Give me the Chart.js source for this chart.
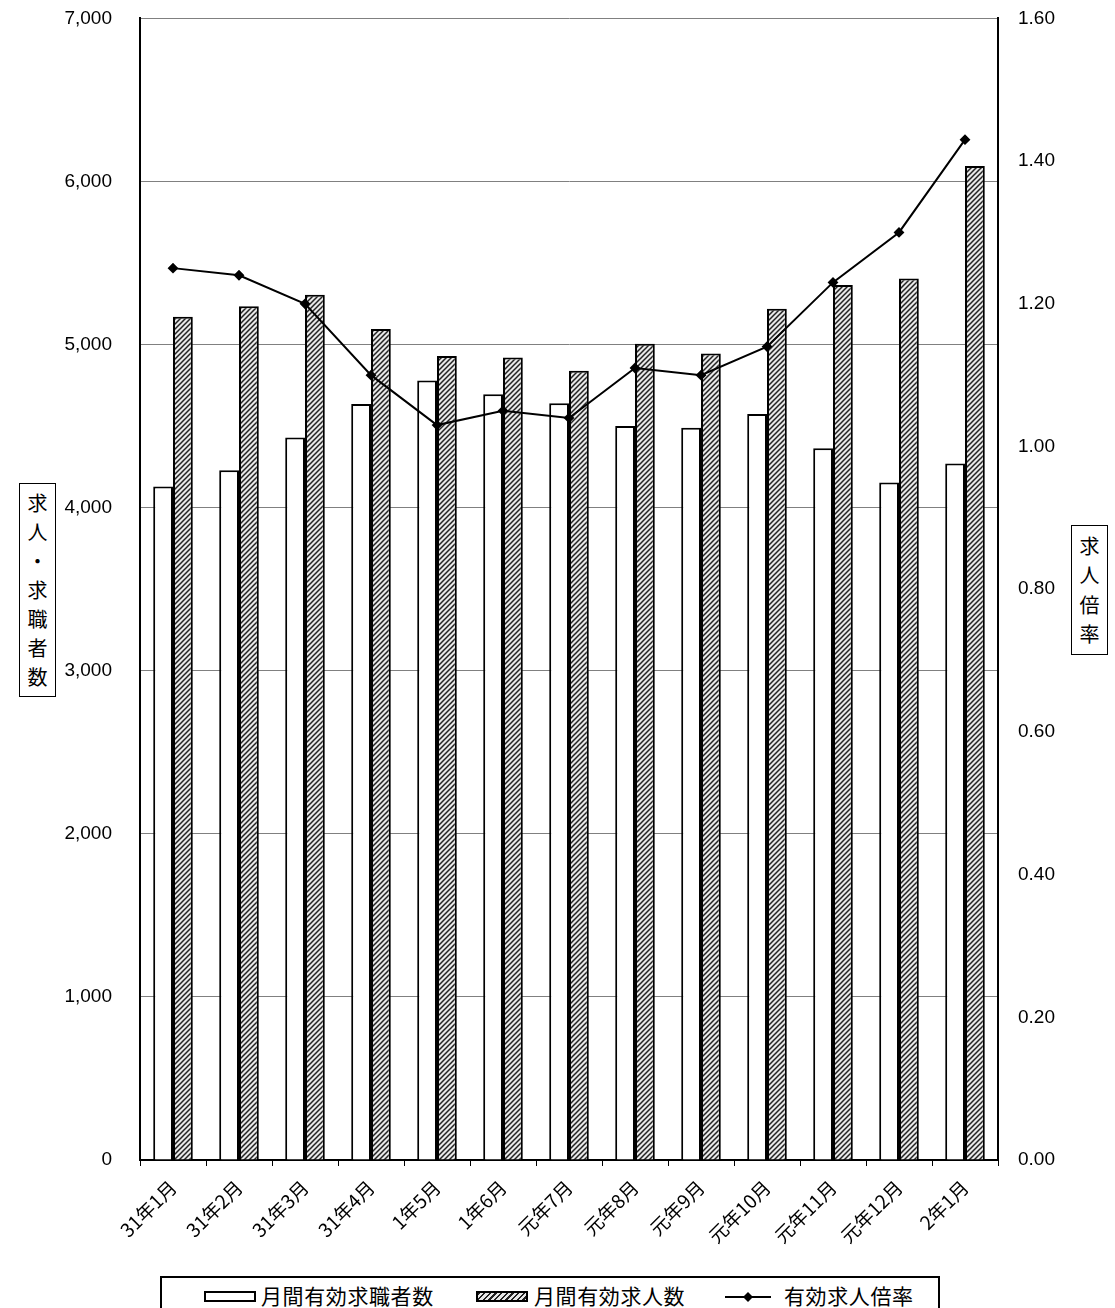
<!DOCTYPE html>
<html>
<head>
<meta charset="utf-8">
<script src="https://cdn.jsdelivr.net/npm/chart.js@4.4.0/dist/chart.umd.min.js"></script>
<style>
body { margin: 0; background: #fff; }
#wrap { position: relative; width: 1115px; height: 1308px; overflow: hidden; font-family: "Noto Sans CJK JP", sans-serif; }
#chart { position: absolute; left: 0; top: -21px; }
.yt { position: absolute; border: 1.5px solid #000; background: #fff; display: flex; flex-direction: column; justify-content: space-evenly; align-items: center; font-size: 20px; line-height: 1; color: #000; }
#legend { position: absolute; left: 160px; top: 1276px; width: 780px; height: 60px; border: 2px solid #000; box-sizing: border-box; }
.lg { position: absolute; top: 5px; font-size: 21px; line-height: 1.2; letter-spacing: 0.6px; font-weight: 400; color: #000; }
.ic { position: absolute; box-sizing: border-box; }
</style>
</head>
<body>
<div id="wrap">
  <canvas id="chart" width="1115" height="1286"></canvas>
  <div class="yt" style="left:19px;top:483px;width:35px;height:212px;"><span>求</span><span>人</span><span>・</span><span>求</span><span>職</span><span>者</span><span>数</span></div>
  <div class="yt" style="left:1071px;top:525px;width:35px;height:128px;"><span>求</span><span>人</span><span>倍</span><span>率</span></div>
  <div id="legend">
    <div class="ic" style="left:42px;top:13px;width:52px;height:11px;border:2px solid #000;background:#fff;"></div>
    <div class="lg" style="left:99px;">月間有効求職者数</div>
    <div class="ic" style="left:314px;top:13px;width:52px;height:11px;border:2px solid #000;background:repeating-linear-gradient(135deg,#222 0 1.5px,#e6e6e6 1.5px 4px);"></div>
    <div class="lg" style="left:372px;">月間有効求人数</div>
    <svg class="ic" style="left:563px;top:11px;" width="46" height="16"><line x1="0" y1="8" x2="46" y2="8" stroke="#000" stroke-width="2"/><polygon points="23,3 28,8 23,13 18,8" fill="#000"/></svg>
    <div class="lg" style="left:622px;">有効求人倍率</div>
  </div>
</div>
<script>
const months = ['31年1月', '31年2月', '31年3月', '31年4月', '1年5月', '1年6月', '元年7月', '元年8月', '元年9月', '元年10月', '元年11月', '元年12月', '2年1月'];
const jobSeekers = [4130, 4230, 4430, 4635, 4780, 4695, 4640, 4500, 4490, 4575, 4365, 4155, 4270];
const jobOffers = [5170, 5235, 5305, 5095, 4930, 4920, 4840, 5005, 4945, 5220, 5365, 5405, 6095];
const offerRatio = [1.25, 1.24, 1.20, 1.10, 1.03, 1.05, 1.04, 1.11, 1.10, 1.14, 1.23, 1.30, 1.43];

function hatch() {
  const t = document.createElement('canvas');
  t.width = 5; t.height = 5;
  const g = t.getContext('2d');
  g.fillStyle = '#e8e8e8';
  g.fillRect(0, 0, 5, 5);
  g.strokeStyle = '#222';
  g.lineWidth = 1.5;
  g.beginPath();
  g.moveTo(-1, 6); g.lineTo(6, -1);
  g.moveTo(-1, 1); g.lineTo(1, -1);
  g.moveTo(4, 6); g.lineTo(6, 4);
  g.stroke();
  return g.createPattern(t, 'repeat');
}

const ctx = document.getElementById('chart').getContext('2d');
const tickFont = { family: '"Liberation Sans", Arial, sans-serif', size: 19 };

new Chart(ctx, {
  type: 'bar',
  data: {
    labels: months,
    datasets: [
      {
        type: 'line', label: '有効求人倍率', data: offerRatio, yAxisID: 'y1', order: 0,
        borderColor: '#000', borderWidth: 2, backgroundColor: '#000',
        pointStyle: 'rectRot', pointRadius: 4, pointBackgroundColor: '#000', tension: 0
      },
      {
        label: '月間有効求職者数', data: jobSeekers, yAxisID: 'y', order: 1,
        backgroundColor: '#fff', borderColor: '#000', borderWidth: 2,
        categoryPercentage: 0.6, barPercentage: 1
      },
      {
        label: '月間有効求人数', data: jobOffers, yAxisID: 'y', order: 2,
        backgroundColor: hatch(), borderColor: '#000', borderWidth: 2,
        categoryPercentage: 0.6, barPercentage: 1
      }
    ]
  },
  options: {
    responsive: false,
    animation: false,
    devicePixelRatio: 1,
    layout: { padding: { top: 0, left: 0, right: 0, bottom: 0 } },
    plugins: { legend: { display: false }, tooltip: { enabled: false } },
    scales: {
      x: {
        grid: { drawOnChartArea: false, drawTicks: true, tickLength: 6, color: '#000', offset: true },
        border: { color: '#000', width: 2 },
        ticks: {
          font: { family: '"Noto Sans CJK JP", sans-serif', size: 19 }, color: '#000',
          minRotation: 45, maxRotation: 45, padding: 10, autoSkip: false
        },
        afterFit: s => { s.height = 105; }
      },
      y: {
        position: 'left', min: 0, max: 7000,
        grid: { color: '#808080', lineWidth: 1, drawTicks: false },
        border: { color: '#000', width: 2 },
        ticks: {
          stepSize: 1000, padding: 28, color: '#000', font: tickFont,
          callback: v => v.toLocaleString('en-US')
        },
        afterFit: s => { s.width = 140; }
      },
      y1: {
        position: 'right', min: 0, max: 1.6,
        grid: { drawOnChartArea: false, drawTicks: false },
        border: { color: '#000', width: 2 },
        ticks: {
          stepSize: 0.2, padding: 20, color: '#000', font: tickFont,
          callback: v => v.toFixed(2)
        },
        afterFit: s => { s.width = 117; }
      }
    }
  }
});
</script>
</body>
</html>
